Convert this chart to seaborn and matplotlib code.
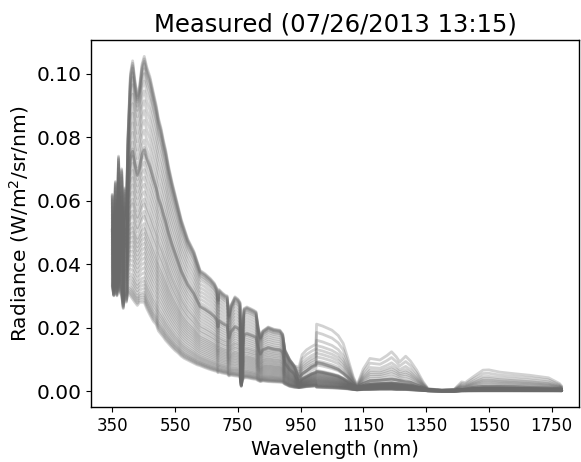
import numpy as np
import pandas as pd
import matplotlib
matplotlib.use("Agg")
import matplotlib.pyplot as plt
import seaborn as sns

# Spectral sampling points (nm)
wavelength = [
    350, 355, 360, 365, 370, 375, 380, 385, 390, 395, 400, 408, 415, 422, 430,
    437, 445, 452, 460, 470, 481, 490, 497, 505, 513, 520, 529, 540, 550, 560,
    570, 580, 590, 600, 610, 620, 630, 645, 662, 675, 683, 687, 690, 700, 710,
    716, 722, 728, 741, 750, 757, 761, 765, 770, 779, 790, 800, 808, 815, 822,
    830, 847, 865, 884, 893, 900, 915, 930, 945, 955, 969, 985, 999, 1001, 1020,
    1050, 1070, 1086, 1100, 1118, 1130, 1150, 1171, 1203, 1225, 1240, 1255, 1266,
    1285, 1300, 1320, 1340, 1356, 1400, 1440, 1463, 1475, 1500, 1531, 1550, 1584,
    1630, 1680, 1740, 1775, 1782,
]

# Dimmest measured spectrum (W/m^2/sr/nm)
radiance_low = [
    0.033, 0.030, 0.034, 0.030, 0.035, 0.031, 0.030, 0.026, 0.030, 0.028, 0.031,
    0.030, 0.029, 0.028, 0.027, 0.028, 0.028, 0.028, 0.026, 0.024, 0.022, 0.021,
    0.019, 0.018, 0.017, 0.016, 0.015, 0.0138, 0.0128, 0.012, 0.011, 0.0103,
    0.0098, 0.0093, 0.0088, 0.0083, 0.0080, 0.0074, 0.0068, 0.0064, 0.0062,
    0.0058, 0.0060, 0.0057, 0.0055, 0.0054, 0.0048, 0.0050, 0.0048, 0.0047,
    0.0045, 0.0015, 0.0035, 0.0042, 0.0042, 0.0040, 0.0038, 0.0037, 0.0033,
    0.0030, 0.0032, 0.0030, 0.0029, 0.0028, 0.0027, 0.0022, 0.0015, 0.0012,
    0.0011, 0.0012, 0.0014, 0.0015, 0.0016, 0.0012, 0.0011, 0.0010, 0.0009,
    0.0008, 0.0007, 0.0005, 0.0004, 0.0005, 0.0005, 0.0006, 0.0006, 0.0006,
    0.0005, 0.0005, 0.0005, 0.0004, 0.0003, 0.0002, 0.0001, 0.0000, 0.0000,
    0.0001, 0.0001, 0.0001, 0.0001, 0.0001, 0.0001, 0.0001, 0.0001, 0.0001,
    0.0001, 0.0001,
]

# Brightest spectrum of the main group (W/m^2/sr/nm)
radiance_high = [
    0.062, 0.042, 0.066, 0.047, 0.074, 0.052, 0.070, 0.050, 0.064, 0.056, 0.080,
    0.100, 0.104, 0.098, 0.093, 0.096, 0.103, 0.1054, 0.102, 0.099, 0.094, 0.090,
    0.086, 0.083, 0.079, 0.076, 0.071, 0.066, 0.062, 0.058, 0.054, 0.051, 0.048,
    0.046, 0.044, 0.041, 0.038, 0.037, 0.0355, 0.034, 0.0324, 0.029, 0.032,
    0.031, 0.0302, 0.030, 0.024, 0.027, 0.0297, 0.029, 0.028, 0.008, 0.020,
    0.026, 0.0265, 0.026, 0.0255, 0.025, 0.020, 0.017, 0.019, 0.0202, 0.0195,
    0.0192, 0.018, 0.013, 0.010, 0.008, 0.0040, 0.0055, 0.0065, 0.0078, 0.0085,
    0.0092, 0.0088, 0.0078, 0.0070, 0.0058, 0.0045, 0.0023, 0.0012, 0.0025,
    0.0033, 0.0035, 0.0037, 0.0038, 0.0036, 0.0034, 0.0030, 0.0028, 0.0020,
    0.0012, 0.0004, 0.0003, 0.0003, 0.0005, 0.0007, 0.0012, 0.0015, 0.0015,
    0.0015, 0.0014, 0.0012, 0.0010, 0.0008, 0.0006,
]

# Additional near-infrared radiance of the brightest spectra (W/m^2/sr/nm)
radiance_nir_extra = [
    0.0, 0.0, 0.0, 0.0, 0.0, 0.0, 0.0, 0.0, 0.0, 0.0, 0.0, 0.0, 0.0, 0.0, 0.0,
    0.0, 0.0, 0.0, 0.0, 0.0, 0.0, 0.0, 0.0, 0.0, 0.0, 0.0, 0.0, 0.0, 0.0, 0.0,
    0.0, 0.0, 0.0, 0.0, 0.0, 0.0, 0.0, 0.0, 0.0, 0.0, 0.0, 0.0, 0.0, 0.0, 0.0,
    0.0, 0.0, 0.0, 0.0, 0.0, 0.0, 0.0, 0.0, 0.0, 0.0, 0.0, 0.0, 0.0, 0.0, 0.0,
    0.0, 0.0, 0.0, 0.0, 0.0, 0.0, 0.0, 0.0, 0.0035, 0.0060, 0.0065, 0.0062,
    0.0063, 0.0119, 0.0117, 0.0114, 0.0105, 0.0092, 0.0060, 0.0022, 0.0007,
    0.0045, 0.0070, 0.0063, 0.0075, 0.0086, 0.0072, 0.0058, 0.0080, 0.0067,
    0.0046, 0.0018, 0.0004, 0.0000, 0.0003, 0.0024, 0.0020, 0.0033, 0.0051,
    0.0052, 0.0045, 0.0041, 0.0038, 0.0032, 0.0016, 0.0010,
]

# Position of each measurement within the main group (0 = dimmest, 1 = brightest)
group_level = [
    1.00, 0.99, 0.98, 0.97, 0.95, 0.93, 0.90, 0.86, 0.82, 0.78, 0.74, 0.70,
    0.66, 0.63, 0.62, 0.62, 0.60, 0.57, 0.54, 0.51, 0.48, 0.45, 0.42, 0.40,
    0.37, 0.35, 0.32, 0.30, 0.28, 0.26, 0.24, 0.22, 0.20, 0.18, 0.16, 0.14,
    0.12, 0.10, 0.085, 0.07, 0.055, 0.04, 0.03, 0.02, 0.01, 0.00,
]

# Near-infrared brightness of each measurement (fraction of the extra radiance)
nir_level = [
    1.00, 0.0, 0.0, 0.80, 0.0, 0.62, 0.50, 0.42, 0.35, 0.28, 0.20, 0.12,
    0.0, 0.0, 0.0, 0.0, 0.0, 0.0, 0.0, 0.0, 0.0, 0.0, 0.0, 0.0,
    0.0, 0.0, 0.0, 0.0, 0.0, 0.0, 0.0, 0.0, 0.0, 0.0, 0.0, 0.0,
    0.0, 0.0, 0.0, 0.0, 0.0, 0.0, 0.0, 0.0, 0.0, 0.0,
]

wl = np.array(wavelength, dtype=float)
low = np.array(radiance_low)
high = np.array(radiance_high)
extra = np.array(radiance_nir_extra)

frames = []
for k, (g, n) in enumerate(zip(group_level, nir_level)):
    spectrum = low + g * (high - low) + n * extra
    frames.append(pd.DataFrame({"Wavelength": wl, "Radiance": spectrum, "scan": k}))
data = pd.concat(frames, ignore_index=True)

sns.set_style("ticks")
plt.rcParams["font.family"] = ["DejaVu Sans"]
plt.rcParams["axes.edgecolor"] = "black"
plt.rcParams["axes.labelcolor"] = "black"
plt.rcParams["text.color"] = "black"
plt.rcParams["xtick.color"] = "black"
plt.rcParams["ytick.color"] = "black"

fig = plt.figure(figsize=(5.81, 4.62), dpi=100)
ax = fig.add_axes([0.157, 0.119, 0.84, 0.794])

sns.lineplot(
    data=data, x="Wavelength", y="Radiance", units="scan", estimator=None,
    color="#6a6a6a", alpha=0.3, linewidth=2.0, sort=False, ax=ax, legend=False,
)

ax.set_xlim(283, 1838)
ax.set_ylim(-0.005, 0.1105)
ax.set_xticks([350, 550, 750, 950, 1150, 1350, 1550, 1750])
ax.set_yticks([0.0, 0.02, 0.04, 0.06, 0.08, 0.10])
ax.set_yticklabels([f"{v:.2f}" for v in [0.0, 0.02, 0.04, 0.06, 0.08, 0.10]])
ax.tick_params(axis="x", labelsize=12)
ax.tick_params(axis="y", labelsize=14.5)
ax.set_xlabel("Wavelength (nm)", fontsize=14)
ax.set_ylabel("Radiance (W/m$^2$/sr/nm)", fontsize=14.5)
ax.set_title("Measured (07/26/2013 13:15)", fontsize=17.5)
for s in ax.spines.values():
    s.set_color("black")
    s.set_linewidth(1.0)

fig.savefig("out.png", dpi=100)
